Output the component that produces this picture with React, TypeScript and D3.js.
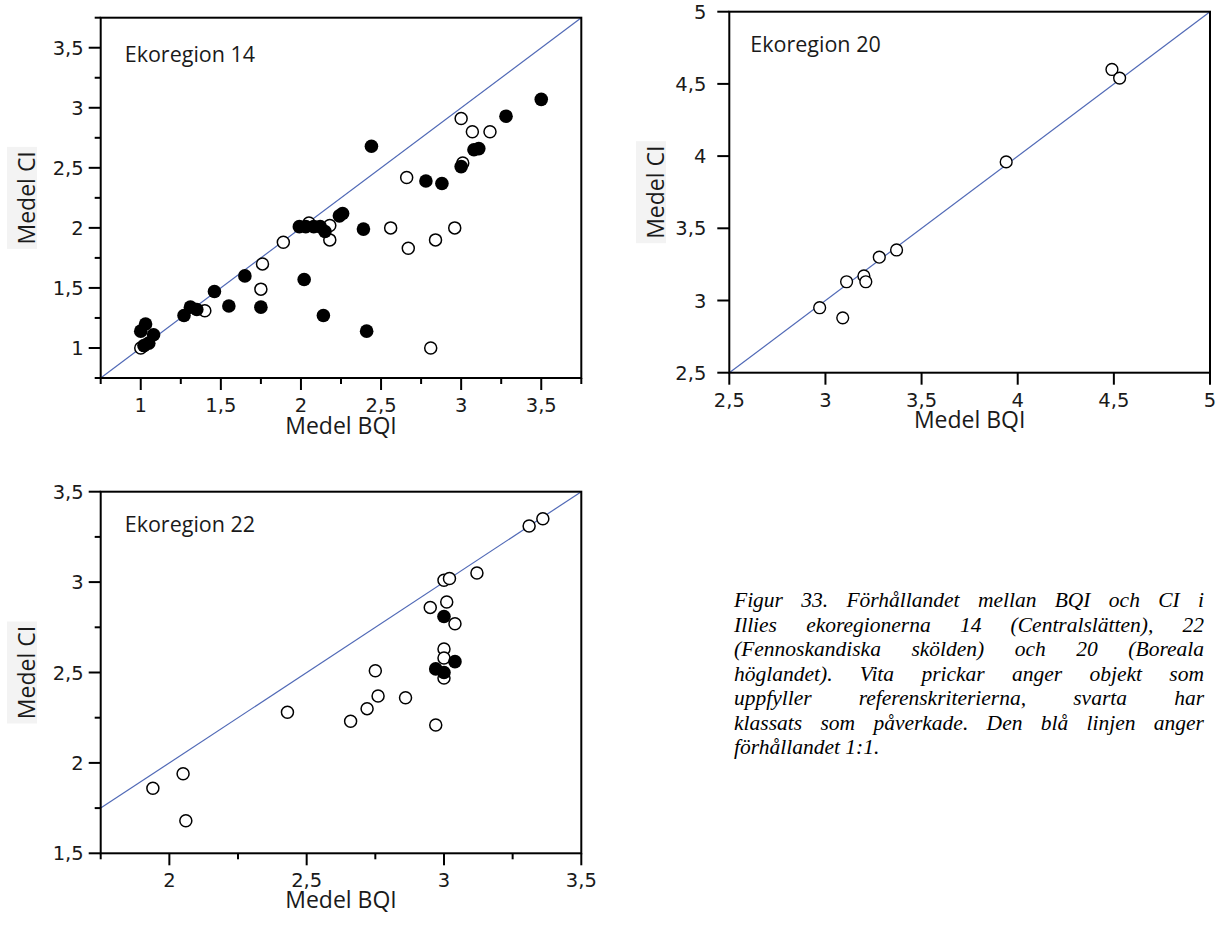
import React, { useMemo } from 'react';
import * as d3 from 'd3';

// ---------- DATA ----------
// Ekoregion 14: [Medel BQI, Medel CI]
const eko14Reference: [number, number][] = [
  [1.0, 1.0], [1.4, 1.31], [1.76, 1.7], [1.75, 1.49], [1.89, 1.88], [2.05, 2.04],
  [2.18, 2.02], [2.18, 1.9], [2.56, 2.0], [2.67, 1.83], [2.84, 1.9], [2.96, 2.0],
  [2.81, 1.0], [2.66, 2.42], [3.0, 2.91], [3.07, 2.8], [3.18, 2.8], [3.01, 2.54],
];
const eko14Impacted: [number, number][] = [
  [1.0, 1.14], [1.03, 1.2], [1.08, 1.11], [1.05, 1.04], [1.02, 1.02], [1.27, 1.27],
  [1.31, 1.34], [1.35, 1.32], [1.46, 1.47], [1.55, 1.35], [1.65, 1.6], [1.75, 1.34],
  [1.99, 2.01], [2.03, 2.01], [2.08, 2.01], [2.12, 2.01], [2.15, 1.97], [2.02, 1.57],
  [2.14, 1.27], [2.24, 2.1], [2.26, 2.12], [2.39, 1.99], [2.41, 1.14], [2.44, 2.68],
  [2.78, 2.39], [2.88, 2.37], [3.0, 2.51], [3.08, 2.65], [3.11, 2.66], [3.28, 2.93],
  [3.5, 3.07],
];
// Ekoregion 20
const eko20Reference: [number, number][] = [
  [2.97, 2.95], [3.09, 2.88], [3.11, 3.13], [3.2, 3.17], [3.21, 3.13], [3.28, 3.3],
  [3.37, 3.35], [3.94, 3.96], [4.49, 4.6], [4.53, 4.54],
];
const eko20Impacted: [number, number][] = [];
// Ekoregion 22
const eko22Reference: [number, number][] = [
  [1.94, 1.86], [2.05, 1.94], [2.06, 1.68], [2.43, 2.28], [2.66, 2.23], [2.72, 2.3],
  [2.76, 2.37], [2.75, 2.51], [2.86, 2.36], [2.97, 2.21], [2.95, 2.86], [3.0, 3.01],
  [3.02, 3.02], [3.12, 3.05], [3.31, 3.31], [3.36, 3.35], [3.01, 2.89], [3.04, 2.77],
  [3.0, 2.63], [3.0, 2.58], [3.0, 2.47],
];
const eko22Impacted: [number, number][] = [
  [3.0, 2.81], [3.04, 2.56], [2.97, 2.52], [3.0, 2.5],
];

// Axis domains and ticks
const eko14Domain: [number, number] = [0.75, 3.75];
const eko14Major = [1, 1.5, 2, 2.5, 3, 3.5];
const eko14Minor = [0.75, 1.25, 1.75, 2.25, 2.75, 3.25, 3.75];

const eko20Domain: [number, number] = [2.5, 5];
const eko20Major = [2.5, 3, 3.5, 4, 4.5, 5];

const eko22XDomain: [number, number] = [1.75, 3.5];
const eko22YDomain: [number, number] = [1.5, 3.5];
const eko22XMajor = [2, 2.5, 3, 3.5];
const eko22XMinor = [1.75, 2.25, 2.75, 3.25];
const eko22YMajor = [1.5, 2, 2.5, 3, 3.5];
const eko22YMinor = [1.75, 2.25, 2.75, 3.25];

const xTitle = 'Medel BQI';
const yTitle = 'Medel CI';

const captionLines = [
  'Figur 33. Förhållandet mellan BQI och CI i',
  'Illies ekoregionerna 14 (Centralslätten), 22',
  '(Fennoskandiska skölden) och 20 (Boreala',
  'höglandet). Vita prickar anger objekt som',
  'uppfyller referenskriterierna, svarta har',
  'klassats som påverkade. Den blå linjen anger',
  'förhållandet 1:1.',
];

// ---------- LAYOUT ----------
const fmt = d3.formatLocale({ decimal: ',', thousands: ' ', grouping: [3], currency: ['', ''] }).format('~g');

const TICK_FONT = "'DejaVu Sans', Verdana, sans-serif";
const TITLE_FONT = "'Open Sans', 'Noto Sans', sans-serif";
const CAPTION_FONT = "'Liberation Serif', 'Times New Roman', serif";
const LINE_COLOR = '#5069b6';
const TEXT_COLOR = '#1a1a1a';

interface PanelSpec {
  label: string;
  left: number; right: number; top: number; bottom: number;
  xDomain: [number, number]; yDomain: [number, number];
  xMajor: number[]; xMinor: number[]; yMajor: number[]; yMinor: number[];
  ref: [number, number][]; imp: [number, number][];
  labelDx: number; labelDy: number;
  yLabelGap: number;
  yTitleX: number;
  xTitleDy: number;
  openR: number; fillR: number; strokeW: number;
}

const panels: PanelSpec[] = [
  {
    label: 'Ekoregion 14', left: 100.7, right: 581.3, top: 17.7, bottom: 378,
    xDomain: eko14Domain, yDomain: eko14Domain,
    xMajor: eko14Major, xMinor: eko14Minor, yMajor: eko14Major, yMinor: eko14Minor,
    ref: eko14Reference, imp: eko14Impacted,
    labelDx: 24, labelDy: 44, yLabelGap: 17, yTitleX: 35, xTitleDy: 56,
    openR: 6.0, fillR: 6.8, strokeW: 1.5,
  },
  {
    label: 'Ekoregion 20', left: 729.3, right: 1210, top: 11.7, bottom: 372.7,
    xDomain: eko20Domain, yDomain: eko20Domain,
    xMajor: eko20Major, xMinor: [], yMajor: eko20Major, yMinor: [],
    ref: eko20Reference, imp: eko20Impacted,
    labelDx: 21, labelDy: 40, yLabelGap: 23, yTitleX: 664, xTitleDy: 55,
    openR: 5.9, fillR: 6.6, strokeW: 1.4,
  },
  {
    label: 'Ekoregion 22', left: 100.7, right: 581.3, top: 491.7, bottom: 853.3,
    xDomain: eko22XDomain, yDomain: eko22YDomain,
    xMajor: eko22XMajor, xMinor: eko22XMinor, yMajor: eko22YMajor, yMinor: eko22YMinor,
    ref: eko22Reference, imp: eko22Impacted,
    labelDx: 24, labelDy: 40, yLabelGap: 17, yTitleX: 35, xTitleDy: 55,
    openR: 6.0, fillR: 6.8, strokeW: 1.5,
  },
];

const MAJOR = 12;
const MINOR = 6;

function Panel({ p }: { p: PanelSpec }) {
  const x = d3.scaleLinear().domain(p.xDomain).range([p.left, p.right]);
  const y = d3.scaleLinear().domain(p.yDomain).range([p.bottom, p.top]);
  const lo = Math.max(p.xDomain[0], p.yDomain[0]);
  const hi = Math.min(p.xDomain[1], p.yDomain[1]);
  const line = d3.line<number>().x((d) => x(d)).y((d) => y(d))([lo, hi]) || '';
  const cx = (p.left + p.right) / 2;
  const cy = (p.top + p.bottom) / 2;
  return (
    <g>
      <path d={line} stroke={LINE_COLOR} strokeWidth={1.2} fill="none" />
      {p.ref.map((d, i) => (
        <circle key={'r' + i} cx={x(d[0])} cy={y(d[1])} r={p.openR} fill="#fff" stroke="#000" strokeWidth={p.strokeW} />
      ))}
      {p.imp.map((d, i) => (
        <circle key={'f' + i} cx={x(d[0])} cy={y(d[1])} r={p.fillR} fill="#000" />
      ))}
      <rect x={p.left} y={p.top} width={p.right - p.left} height={p.bottom - p.top} fill="none" stroke="#000" strokeWidth={2} />
      {/* x ticks */}
      {p.xMajor.map((t) => (
        <g key={'xM' + t}>
          <line x1={x(t)} x2={x(t)} y1={p.bottom} y2={p.bottom + MAJOR} stroke="#000" strokeWidth={2} />
          <text x={x(t)} y={p.bottom + 34} textAnchor="middle" fontFamily={TICK_FONT} fontSize={19.5} fill={TEXT_COLOR}>{fmt(t)}</text>
        </g>
      ))}
      {p.xMinor.map((t) => (
        <line key={'xm' + t} x1={x(t)} x2={x(t)} y1={p.bottom} y2={p.bottom + MINOR} stroke="#000" strokeWidth={2} />
      ))}
      {/* y ticks */}
      {p.yMajor.map((t) => (
        <g key={'yM' + t}>
          <line x1={p.left - MAJOR} x2={p.left} y1={y(t)} y2={y(t)} stroke="#000" strokeWidth={2} />
          <text x={p.left - p.yLabelGap} y={y(t)} dy="0.36em" textAnchor="end" fontFamily={TICK_FONT} fontSize={19.5} fill={TEXT_COLOR}>{fmt(t)}</text>
        </g>
      ))}
      {p.yMinor.map((t) => (
        <line key={'ym' + t} x1={p.left - MINOR} x2={p.left} y1={y(t)} y2={y(t)} stroke="#000" strokeWidth={2} />
      ))}
      {/* panel label */}
      <text x={p.left + p.labelDx} y={p.top + p.labelDy} fontFamily={TITLE_FONT} fontSize={21.5} fill={TEXT_COLOR}>{p.label}</text>
      {/* axis titles */}
      <text x={cx} y={p.bottom + p.xTitleDy} textAnchor="middle" fontFamily={TITLE_FONT} fontSize={23} fill={TEXT_COLOR}>{xTitle}</text>
      <rect x={p.yTitleX - 28} y={cy - 51} width={30} height={102} fill="#f3f3f3" />
      <text transform={`translate(${p.yTitleX},${cy}) rotate(-90)`} textAnchor="middle" fontFamily={TITLE_FONT} fontSize={23} fill={TEXT_COLOR}>{yTitle}</text>
    </g>
  );
}

function Caption() {
  const left = 734;
  const right = 1204;
  const top = 607;
  const lh = 24.5;
  const fontSize = 21.5;
  const layout = useMemo(() => {
    let measure = (s: string) => s.length * fontSize * 0.45;
    try {
      const ctx = document.createElement('canvas').getContext('2d');
      if (ctx) {
        ctx.font = `italic ${fontSize}px 'Liberation Serif'`;
        measure = (s: string) => ctx.measureText(s).width;
      }
    } catch (e) { /* ignore */ }
    return captionLines.map((line, li) => {
      const words = line.split(' ');
      const widths = words.map(measure);
      const total = widths.reduce((a, b) => a + b, 0);
      const last = li === captionLines.length - 1;
      const gap = last || words.length < 2 ? measure(' ') : (right - left - total) / (words.length - 1);
      let cur = left;
      return words.map((w, i) => {
        const pos = cur;
        cur += widths[i] + gap;
        return { w, x: pos };
      });
    });
  }, []);
  return (
    <g>
      {layout.map((ws, li) => (
        <text key={li} y={top + li * lh} fontFamily={CAPTION_FONT} fontStyle="italic" fontSize={fontSize} fill="#000">
          {ws.map((o, i) => (
            <tspan key={i} x={o.x}>{o.w}</tspan>
          ))}
        </text>
      ))}
    </g>
  );
}

export default function App() {
  return (
    <svg width={1221} height={934} style={{ position: 'absolute', left: 0, top: 0, background: '#fff' }}>
      <rect x={0} y={0} width={1221} height={934} fill="#fff" />
      {panels.map((p) => (
        <Panel key={p.label} p={p} />
      ))}
      <Caption />
    </svg>
  );
}
